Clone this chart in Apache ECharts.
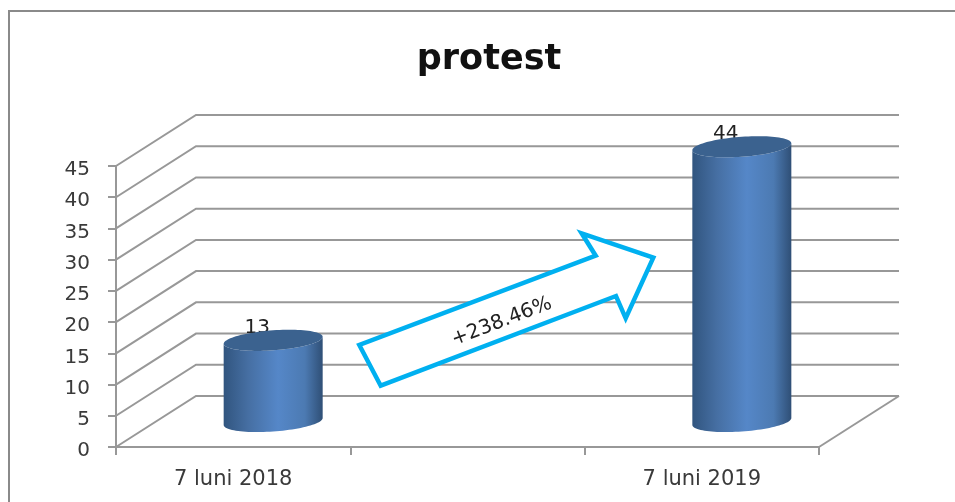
<!DOCTYPE html>
<html>
<head>
<meta charset="utf-8">
<title>protest</title>
<script src="https://cdn.jsdelivr.net/npm/echarts@6/dist/echarts.min.js"></script>
<style>
    html, body { margin: 0; padding: 0; background: #fff; }
    #chart { width: 955px; height: 502px; }
</style>
</head>
<body>
<div id="chart"></div>
<script>
var chartTitle = "protest";
var categories = ["7 luni 2018", "", "7 luni 2019"];
var values = [13, null, 44];
var yTicks = [0, 5, 10, 15, 20, 25, 30, 35, 40, 45];
var arrowLabel = "+238.46%";

var lineGrey = "#989898",
    textGrey = "#3a3a3a",
    labelFont = "'DejaVu Sans', sans-serif";

// 三维效果的进深
var depthX = 80,
    depthY = 51;

var chart = echarts.init(document.getElementById("chart"));

function renderWall(params, api) {
    var rect = params.coordSys;
    var y = api.coord([0, api.value(0)])[1];
    var left = rect.x, right = rect.x + rect.width;
    var style = { stroke: lineGrey, lineWidth: 2, fill: null };
    var children = [{
        type: "polyline",
        shape: { points: [[left, y], [left + depthX, y - depthY], [right + depthX, y - depthY]] },
        style: style
    }];
    // 底面右侧的边
    if (api.value(0) === 0) {
        children.push({
            type: "line",
            shape: { x1: right, y1: y, x2: right + depthX, y2: y - depthY },
            style: style
        });
    }
    return { type: "group", children: children };
}

// 椭圆上的点，带一点倾斜
function ellipsePoint(cx, cy, rx, ry, t) {
    return [
        cx + rx * Math.cos(t),
        cy + ry * Math.sin(t) - 0.07 * rx * Math.cos(t)
    ];
}

function renderCylinder(params, api) {
    var cat = api.value(0), val = api.value(1);
    var top = api.coord([cat, val]);
    var base = api.coord([cat, 0]);
    var cx = top[0] + depthX / 2,
        topY = top[1] - depthY / 2,
        baseY = base[1] - depthY / 2;
    var rx = 49.5, ry = 10, steps = 48, i;

    var body = [], lid = [];
    for (i = 0; i <= steps; i++) {
        body.push(ellipsePoint(cx, baseY, rx, ry, Math.PI - Math.PI * i / steps));
    }
    for (i = 0; i <= steps; i++) {
        body.push(ellipsePoint(cx, topY, rx, ry, Math.PI * i / steps));
    }
    for (i = 0; i < steps * 2; i++) {
        lid.push(ellipsePoint(cx, topY, rx, ry, Math.PI * i / steps));
    }

    return {
        type: "group",
        children: [{
            type: "text",
            style: {
                text: String(val),
                x: cx - 16,
                y: topY - 13,
                align: "center",
                verticalAlign: "middle",
                fill: "#222",
                font: "20px " + labelFont
            }
        }, {
            type: "polygon",
            shape: { points: body },
            style: {
                fill: new echarts.graphic.LinearGradient(0, 0, 1, 0, [
                    { offset: 0, color: "#31557f" },
                    { offset: 0.25, color: "#466fa3" },
                    { offset: 0.55, color: "#5587c8" },
                    { offset: 0.82, color: "#4c7ab2" },
                    { offset: 1, color: "#2f4f76" }
                ])
            }
        }, {
            type: "polygon",
            shape: { points: lid },
            style: { fill: "#3b628f" }
        }]
    };
}

var option = {
    animation: false,
    backgroundColor: "#fff",
    title: {
        text: chartTitle,
        left: 484,
        top: 37,
        textAlign: "center",
        textStyle: {
            fontFamily: "'DejaVu Sans', sans-serif",
            fontSize: 35,
            fontWeight: "bold",
            color: "#111"
        }
    },
    grid: { left: 116, right: 136, top: 166, bottom: 55 },
    xAxis: {
        type: "category",
        data: categories,
        boundaryGap: true,
        axisLine: { lineStyle: { color: lineGrey, width: 2 } },
        axisTick: { show: true, length: 8, alignWithLabel: false, lineStyle: { color: lineGrey, width: 2 } },
        axisLabel: {
            interval: 0,
            margin: 22,
            fontFamily: labelFont,
            fontSize: 21,
            color: textGrey
        }
    },
    yAxis: {
        type: "value",
        min: 0,
        max: 45,
        interval: 5,
        splitLine: { show: false },
        axisLine: { show: true, lineStyle: { color: lineGrey, width: 2 } },
        axisTick: { show: true, length: 8, lineStyle: { color: lineGrey, width: 2 } },
        axisLabel: {
            margin: 26,
            verticalAlign: "top",
            lineHeight: 8,
            fontFamily: labelFont,
            fontSize: 20,
            color: textGrey
        }
    },
    series: [{
        type: "custom",
        name: "walls",
        z: 1,
        silent: true,
        renderItem: renderWall,
        data: yTicks.map(function (v) { return [v]; }),
        encode: { y: 0 }
    }, {
        type: "custom",
        name: chartTitle,
        z: 3,
        renderItem: renderCylinder,
        data: values.map(function (v, i) { return [i, v]; }).filter(function (d) { return d[1] !== null; }),
        encode: { x: 0, y: 1 }
    }],
    graphic: [{
        // 外框，只有上边和左边露出来
        type: "polyline",
        z: 5,
        shape: { points: [[9, 502], [9, 11], [955, 11]] },
        style: { stroke: "#8a8a8a", lineWidth: 2, fill: null }
    }, {
        type: "polygon",
        z: 10,
        shape: {
            points: [[359.3, 345], [380.7, 385.7], [616, 296], [625.7, 318.3],
                [653.3, 257.7], [581.7, 233.3], [595.7, 255.7]]
        },
        style: { fill: "#fff", stroke: "#00b0f0", lineWidth: 4.5, lineJoin: "miter" }
    }, {
        type: "text",
        z: 11,
        x: 501.7,
        y: 321.7,
        rotation: 21 * Math.PI / 180,
        style: {
            text: arrowLabel,
            align: "center",
            verticalAlign: "middle",
            fill: "#222",
            font: "20px " + labelFont
        }
    }]
};

chart.setOption(option);
</script>
</body>
</html>
